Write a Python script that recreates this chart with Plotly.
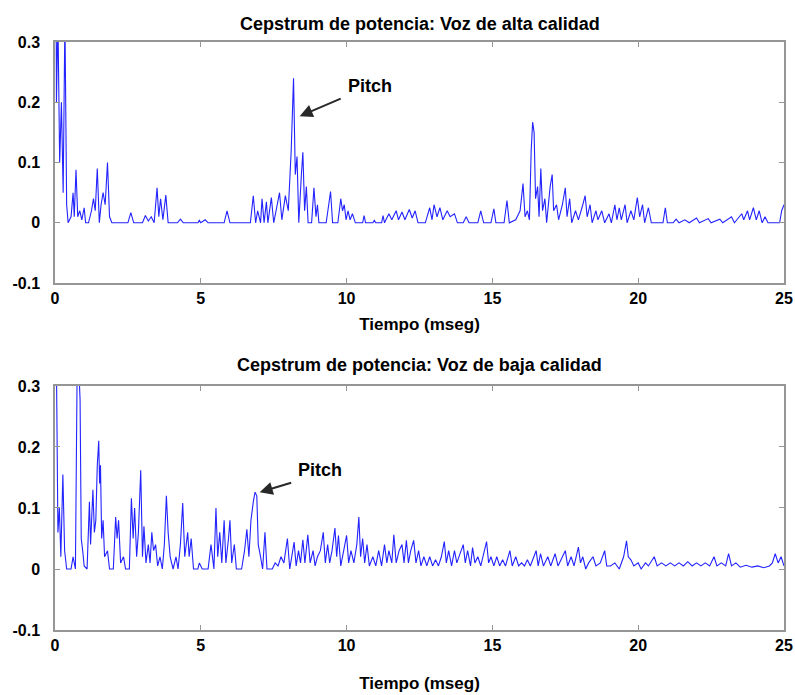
import plotly.graph_objects as go

# ---- Data: power cepstrum, high quality voice ----
t_alta = [0.00, 0.05, 0.10, 0.16, 0.22, 0.28, 0.34, 0.40, 0.45, 0.55, 0.62, 0.66, 0.72, 0.78, 0.85, 0.92, 1.00, 1.05,
          1.15, 1.25, 1.32, 1.38, 1.45, 1.52, 1.58, 1.65, 1.72, 1.80, 1.87, 1.95, 2.50, 2.60, 2.70, 3.00, 3.10, 3.20,
          3.30, 3.40, 3.50, 3.56, 3.62, 3.70, 3.80, 3.88, 4.20, 4.30, 4.40, 4.90, 4.95, 5.00, 5.15, 5.25, 5.80, 5.90,
          6.00, 6.70, 6.80, 6.88, 6.95, 7.05, 7.10, 7.17, 7.25, 7.30, 7.42, 7.50, 7.62, 7.70, 7.78, 7.90, 8.00, 8.10,
          8.18, 8.24, 8.30, 8.36, 8.45, 8.50, 8.56, 8.62, 8.68, 8.80, 8.88, 8.95, 9.00, 9.05, 9.30, 9.38, 9.45, 9.52,
          9.70, 9.80, 9.86, 9.92, 9.98, 10.05, 10.12, 10.20, 10.30, 10.55, 10.60, 10.65, 10.90, 10.95, 11.00, 11.20,
          11.25, 11.30, 11.45, 11.55, 11.70, 11.78, 11.90, 12.00, 12.15, 12.25, 12.35, 12.45, 12.70, 12.85, 12.93,
          13.00, 13.10, 13.20, 13.30, 13.45, 13.55, 13.70, 13.80, 14.00, 14.10, 14.20, 14.50, 14.60, 14.70, 14.95,
          15.05, 15.12, 15.40, 15.50, 15.58, 15.80, 15.95, 16.05, 16.12, 16.20, 16.27, 16.33, 16.38, 16.43, 16.48,
          16.55, 16.60, 16.66, 16.72, 16.80, 16.86, 16.98, 17.05, 17.10, 17.20, 17.27, 17.40, 17.50, 17.56, 17.65,
          17.72, 17.85, 17.95, 18.10, 18.18, 18.25, 18.35, 18.42, 18.55, 18.62, 18.75, 18.85, 19.00, 19.08, 19.20,
          19.27, 19.35, 19.42, 19.55, 19.62, 19.75, 19.85, 19.97, 20.05, 20.15, 20.22, 20.35, 20.45, 20.85, 20.93,
          21.00, 21.20, 21.30, 21.40, 21.60, 21.75, 22.00, 22.10, 22.40, 22.50, 22.80, 22.90, 23.20, 23.30, 23.55,
          23.62, 23.75, 23.82, 23.95, 24.05, 24.15, 24.25, 24.35, 24.45, 24.85, 24.92, 25.00]
c_alta = [0.95, 0.20, 0.34, 0.10, 0.20, 0.05, 0.34, 0.03, 0.0, 0.01, 0.05, 0.01, 0.088, 0.01, 0.02, 0.005, 0.025, 0.0,
          0.0, 0.02, 0.04, 0.02, 0.09, 0.0, 0.03, 0.05, 0.03, 0.10, 0.01, 0.0, 0.0, 0.017, 0.0, 0.0, 0.012, 0.003,
          0.01, 0.0, 0.058, 0.01, 0.04, 0.005, 0.046, 0.0, 0.0, 0.006, 0.0, 0.0, 0.004, 0.0, 0.005, 0.0, 0.0, 0.02,
          0.0, 0.0, 0.045, 0.0, 0.02, 0.0, 0.04, 0.0, 0.035, 0.0, 0.042, 0.0, 0.03, 0.05, 0.005, 0.045, 0.02, 0.12,
          0.24, 0.08, 0.11, 0.0, 0.08, 0.117, 0.02, 0.06, 0.0, 0.0, 0.058, 0.01, 0.03, 0.0, 0.0, 0.03, 0.052, 0.0,
          0.0, 0.04, 0.02, 0.03, 0.005, 0.02, 0.005, 0.015, 0.0, 0.0, 0.012, 0.0, 0.0, 0.004, 0.0, 0.0,
          0.012, 0.0, 0.015, 0.005, 0.02, 0.005, 0.018, 0.005, 0.022, 0.008, 0.02, 0.0, 0.0, 0.025, 0.005,
          0.03, 0.01, 0.025, 0.005, 0.02, 0.01, 0.015, 0.0, 0.0, 0.01, 0.0, 0.0, 0.02, 0.0, 0.0,
          0.023, 0.0, 0.0, 0.037, 0.0, 0.005, 0.02, 0.065, 0.01, 0.02, 0.005, 0.12, 0.167, 0.15, 0.04,
          0.06, 0.01, 0.09, 0.02, 0.04, 0.0, 0.06, 0.08, 0.02, 0.03, 0.005, 0.03, 0.058, 0.01, 0.04,
          0.0, 0.02, 0.005, 0.03, 0.045, 0.01, 0.03, 0.0, 0.02, 0.005, 0.02, 0.0, 0.015, 0.0, 0.03,
          0.005, 0.025, 0.005, 0.03, 0.0, 0.02, 0.005, 0.042, 0.01, 0.03, 0.0, 0.025, 0.0, 0.0, 0.025,
          0.0, 0.0, 0.006, 0.0, 0.005, 0.0, 0.008, 0.0, 0.007, 0.0, 0.006, 0.0, 0.01, 0.0, 0.015,
          0.005, 0.02, 0.005, 0.025, 0.005, 0.02, 0.0, 0.01, 0.0, 0.0, 0.02, 0.03]

# ---- Data: power cepstrum, low quality voice ----
t_baja = [0.00, 0.05, 0.10, 0.15, 0.20, 0.27, 0.33, 0.40, 0.55, 0.62, 0.70, 0.76, 0.80, 0.86, 0.90, 0.95, 1.00, 1.10,
          1.18, 1.22, 1.30, 1.35, 1.40, 1.45, 1.50, 1.53, 1.56, 1.60, 1.65, 1.70, 1.80, 1.87, 2.00, 2.08, 2.13, 2.18,
          2.25, 2.35, 2.42, 2.55, 2.62, 2.68, 2.73, 2.80, 2.86, 2.94, 3.00, 3.05, 3.12, 3.20, 3.26, 3.32, 3.38, 3.45,
          3.52, 3.60, 3.68, 3.75, 3.82, 3.88, 3.95, 4.05, 4.15, 4.22, 4.30, 4.38, 4.45, 4.55, 4.60, 4.67, 4.75, 4.90,
          4.95, 5.05, 5.25, 5.35, 5.45, 5.52, 5.58, 5.65, 5.72, 5.80, 5.86, 5.95, 6.00, 6.06, 6.15, 6.22, 6.40, 6.50,
          6.58, 6.65, 6.72, 6.80, 6.86, 6.92, 6.97, 7.05, 7.12, 7.20, 7.27, 7.45, 7.55, 7.65, 7.75, 7.85, 7.97, 8.05,
          8.12, 8.20, 8.27, 8.35, 8.42, 8.50, 8.57, 8.67, 8.75, 8.85, 8.92, 9.00, 9.10, 9.20, 9.27, 9.35, 9.42, 9.50,
          9.60, 9.66, 9.72, 9.80, 9.90, 10.00, 10.07, 10.15, 10.25, 10.35, 10.42, 10.48, 10.55, 10.62, 10.70, 10.78,
          10.90, 11.00, 11.10, 11.20, 11.30, 11.38, 11.45, 11.55, 11.62, 11.70, 11.80, 11.90, 11.97, 12.05, 12.12,
          12.20, 12.30, 12.38, 12.47, 12.55, 12.65, 12.75, 12.85, 12.95, 13.05, 13.15, 13.25, 13.35, 13.42, 13.50,
          13.60, 13.70, 13.78, 13.90, 14.00, 14.07, 14.15, 14.25, 14.32, 14.40, 14.50, 14.60, 14.70, 14.80, 14.87,
          14.95, 15.05, 15.15, 15.25, 15.35, 15.45, 15.60, 15.68, 15.80, 15.90, 16.00, 16.10, 16.20, 16.30, 16.50,
          16.57, 16.65, 16.75, 16.90, 17.00, 17.15, 17.25, 17.40, 17.50, 17.58, 17.70, 17.80, 17.95, 18.02, 18.10,
          18.20, 18.30, 18.45, 18.55, 18.70, 18.85, 18.92, 19.05, 19.20, 19.35, 19.50, 19.60, 19.66, 19.75, 19.85,
          20.00, 20.10, 20.25, 20.35, 20.55, 20.65, 20.80, 20.95, 21.10, 21.25, 21.40, 21.55, 21.70, 21.85, 22.00,
          22.15, 22.30, 22.45, 22.60, 22.70, 22.85, 23.00, 23.10, 23.20, 23.35, 23.50, 23.70, 23.90, 24.10, 24.30,
          24.50, 24.60, 24.70, 24.80, 24.90, 25.00]
c_baja = [0.60, 0.30, 0.06, 0.10, 0.02, 0.155, 0.03, 0.0, 0.0, 0.02, 0.0, 0.33, 0.35, 0.277, 0.05, 0.03, 0.005, 0.0,
          0.11, 0.04, 0.13, 0.06, 0.08, 0.17, 0.21, 0.14, 0.17, 0.05, 0.08, 0.02, 0.03, 0.0, 0.0, 0.085, 0.05, 0.08,
          0.01, 0.02, 0.0, 0.0, 0.116, 0.05, 0.10, 0.02, 0.06, 0.162, 0.02, 0.07, 0.01, 0.04, 0.01, 0.06, 0.03, 0.04,
          0.005, 0.02, 0.0, 0.04, 0.12, 0.06, 0.02, 0.0, 0.02, 0.0, 0.04, 0.108, 0.02, 0.06, 0.02, 0.05, 0.0, 0.0,
          0.01, 0.0, 0.0, 0.04, 0.0, 0.10, 0.02, 0.06, 0.01, 0.08, 0.01, 0.05, 0.08, 0.01, 0.04, 0.0, 0.0, 0.03,
          0.065, 0.02, 0.08, 0.11, 0.126, 0.12, 0.04, 0.02, 0.0, 0.06, 0.0, 0.0, 0.01, 0.005, 0.02, 0.01, 0.05, 0.0,
          0.02, 0.044, 0.005, 0.03, 0.01, 0.048, 0.01, 0.056, 0.01, 0.03, 0.005, 0.02, 0.03, 0.06, 0.01, 0.04, 0.01, 0.03,
          0.067, 0.02, 0.055, 0.005, 0.03, 0.055, 0.01, 0.03, 0.01, 0.04, 0.085, 0.02, 0.05, 0.01, 0.04, 0.005,
          0.02, 0.005, 0.03, 0.005, 0.04, 0.01, 0.03, 0.01, 0.056, 0.01, 0.03, 0.04, 0.01, 0.047, 0.01,
          0.03, 0.047, 0.01, 0.03, 0.005, 0.02, 0.005, 0.02, 0.005, 0.015, 0.005, 0.02, 0.045, 0.01, 0.03,
          0.005, 0.03, 0.01, 0.025, 0.04, 0.01, 0.03, 0.005, 0.035, 0.01, 0.02, 0.005, 0.025, 0.045, 0.01,
          0.02, 0.005, 0.02, 0.005, 0.015, 0.005, 0.03, 0.005, 0.02, 0.005, 0.01, 0.005, 0.015, 0.005, 0.03,
          0.005, 0.025, 0.005, 0.02, 0.005, 0.025, 0.005, 0.02, 0.03, 0.005, 0.02, 0.005, 0.036, 0.01, 0.02,
          0.0, 0.01, 0.02, 0.005, 0.01, 0.03, 0.005, 0.005, 0.01, 0.0, 0.02, 0.046, 0.02, 0.015, 0.005,
          0.01, 0.0, 0.01, 0.005, 0.02, 0.005, 0.01, 0.005, 0.01, 0.005, 0.01, 0.005, 0.012, 0.005, 0.01,
          0.005, 0.01, 0.005, 0.02, 0.005, 0.01, 0.005, 0.025, 0.005, 0.01, 0.003, 0.006, 0.003, 0.005, 0.002,
          0.005, 0.01, 0.025, 0.01, 0.02, 0.005]

titles = ["Cepstrum de potencia: Voz de alta calidad", "Cepstrum de potencia: Voz de baja calidad"]
x_title = "Tiempo (mseg)"
x_ticks = [0, 5, 10, 15, 20, 25]
y_ticks = [-0.1, 0, 0.1, 0.2, 0.3]
y_tick_text = ["-0.1", "0", "0.1", "0.2", "0.3"]
pitch_alta = (8.39, 0.177)
pitch_baja = (7.02, 0.126)

FONT = "Liberation Sans, Arial"
LINE = "rgb(35,35,255)"
FRAME = "rgb(150,150,150)"

fig = go.Figure()
fig.add_trace(go.Scatter(x=t_alta, y=c_alta, mode="lines", line=dict(color=LINE, width=1.1),
                         xaxis="x", yaxis="y", showlegend=False))
fig.add_trace(go.Scatter(x=t_baja, y=c_baja, mode="lines", line=dict(color=LINE, width=1.1),
                         xaxis="x2", yaxis="y2", showlegend=False))

tickfont = dict(family=FONT, size=16, color="black", weight="bold")
titlefont = dict(family=FONT, size=17, color="black", weight="bold")
axis_common = dict(showline=True, linecolor=FRAME, linewidth=1.5, mirror="ticks", ticks="inside",
                   ticklen=5, tickcolor=FRAME, showgrid=False, zeroline=False, tickfont=tickfont,
                   automargin=False)
xcommon = dict(axis_common, range=[0, 25], tickvals=x_ticks, ticktext=[str(v) for v in x_ticks])
ycommon = dict(axis_common, range=[-0.1, 0.3], tickvals=y_ticks, ticktext=y_tick_text, ticklabelstandoff=10)

fig.update_layout(
    width=795, height=695,
    margin=dict(l=55, r=11, t=42, b=65),
    paper_bgcolor="white", plot_bgcolor="white",
    xaxis=dict(xcommon, domain=[0, 1], anchor="y",
               title=dict(text=x_title, font=titlefont, standoff=12)),
    yaxis=dict(ycommon, domain=[0.59, 1.0], anchor="x"),
    xaxis2=dict(xcommon, domain=[0, 1], anchor="y2",
                title=dict(text=x_title, font=titlefont, standoff=24)),
    yaxis2=dict(ycommon, domain=[0.0, 0.415], anchor="x2"),
)

# subplot titles
fig.add_annotation(text=titles[0], xref="paper", yref="paper", x=0.5, y=1.0,
                   yshift=30, showarrow=False, font=dict(family=FONT, size=18, color="black", weight="bold"))
fig.add_annotation(text=titles[1], xref="paper", yref="paper", x=0.5, y=0.415,
                   yshift=21, showarrow=False, font=dict(family=FONT, size=18, color="black", weight="bold"))

# Pitch annotations
for (px_, py_), xr, yr, tx, ty in [(pitch_alta, "x", "y", 10.8, 0.227), (pitch_baja, "x2", "y2", 9.1, 0.162)]:
    fig.add_annotation(x=px_, y=py_, xref=xr, yref=yr, ax=tx - 0.95, ay=ty - 0.02, axref=xr, ayref=yr,
                       showarrow=True, arrowhead=2, arrowsize=1.3, arrowwidth=2, arrowcolor="rgb(40,40,40)", text="")
    fig.add_annotation(x=tx, y=ty, xref=xr, yref=yr, text="Pitch", showarrow=False,
                       font=dict(family=FONT, size=18, color="black", weight="bold"))

fig.write_html("out.html")
